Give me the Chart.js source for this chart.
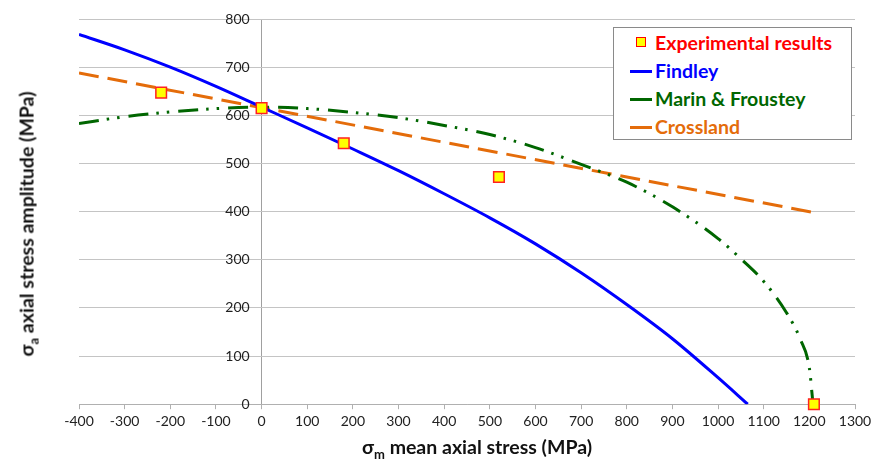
<!DOCTYPE html>
<html>
<head>
<meta charset="utf-8">
<script src="https://cdn.jsdelivr.net/npm/chart.js@4.4.0/dist/chart.umd.min.js"></script>
<style>
  html, body { margin: 0; padding: 0; background: #fff; }
  #wrap { position: relative; width: 872px; height: 461px; }
  #legend {
    position: absolute; left: 613px; top: 27px; width: 239px; height: 113px;
    border: 1px solid #8a8a8a; background: #fff; box-sizing: border-box;
    font-family: Lato, "Open Sans", sans-serif; font-weight: bold; font-size: 19.5px;
  }
  .item { position: absolute; left: 0; height: 22px; line-height: 22px; white-space: nowrap; }
  .item .txt { position: absolute; left: 41px; top: 0; }
  .swLine { position: absolute; left: 16px; top: 10px; width: 22px; height: 3px; }
  .swBox { position: absolute; left: 22px; top: 5px; width: 8px; height: 8px; border: 1.5px solid #f00; background: #ff0; }
  .axTitle { position: absolute; font-family: Lato, "Open Sans", sans-serif; font-weight: bold; font-size: 19.5px; color: #111; white-space: nowrap; }
  .axTitle sub { font-size: 13px; }
</style>
</head>
<body>
<div id="wrap">
  <canvas id="stressChart" width="872" height="461"></canvas>
  <div id="legend"></div>
  <div class="axTitle" style="left:362px; top:435px;">σ<sub>m</sub> mean axial stress (MPa)</div>
  <div class="axTitle" style="left:28px; top:224px; transform: translate(-50%,-50%) rotate(-90deg);">σ<sub>a</sub> axial stress amplitude (MPa)</div>
</div>
<script>
// values
var expX = [-220, 0, 180, 520, 1210];
var expY = [647, 615, 542, 472, 0];

var findleyX = [-400, -300, -200, -100, 0, 100, 200, 300, 400, 500, 600, 700, 800, 900, 1000, 1065];
var findleyY = [768, 736, 700, 660, 617, 574, 530, 485, 437, 387, 333, 273, 207, 136, 55, 0];

var marinX = [-400, -300, -200, -100, 0, 100, 200, 300, 400, 500, 600, 700, 800, 900, 1000, 1050, 1100, 1150, 1180, 1200, 1208];
var marinY = [583, 597, 607, 614, 617, 614, 606, 595, 579, 560, 533, 498, 461, 410, 344, 302, 255, 190, 135, 75, 0];

var crossX = [-400, 1210];
var crossY = [688, 398];

var xTicks = [-400, -300, -200, -100, 0, 100, 200, 300, 400, 500, 600, 700, 800, 900, 1000, 1100, 1200, 1300];
var yTicks = [0, 100, 200, 300, 400, 500, 600, 700, 800];

function pts(xs, ys) {
  return xs.map(function(x, i) { return {x: x, y: ys[i]}; });
}

var datasets = [
  {
    label: 'Experimental results',
    data: pts(expX, expY),
    showLine: false,
    pointStyle: 'rect',
    pointRadius: 7.5,
    pointHoverRadius: 7.5,
    backgroundColor: '#ffff00',
    borderColor: '#ff2020',
    borderWidth: 1.5,
    clip: false,
    textColor: '#ff0000'
  },
  {
    label: 'Findley',
    data: pts(findleyX, findleyY),
    showLine: true,
    borderColor: '#0000ff',
    borderWidth: 3,
    pointRadius: 0,
    cubicInterpolationMode: 'monotone',
    textColor: '#0000ff'
  },
  {
    label: 'Marin & Froustey',
    data: pts(marinX, marinY),
    showLine: true,
    borderColor: '#006600',
    borderWidth: 3,
    borderDash: [20, 8, 2.5, 8, 2.5, 9],
    pointRadius: 0,
    cubicInterpolationMode: 'monotone',
    textColor: '#006600'
  },
  {
    label: 'Crossland',
    data: pts(crossX, crossY),
    showLine: true,
    borderColor: '#e46c0a',
    borderWidth: 3,
    borderDash: [20, 9],
    pointRadius: 0,
    textColor: '#e46c0a'
  }
];

var tickFont = { family: 'Lato, "Open Sans", sans-serif', size: 14 };

var chart = new Chart(document.getElementById('stressChart'), {
  type: 'scatter',
  data: { datasets: datasets },
  options: {
    responsive: false,
    animation: false,
    layout: { padding: { left: 79, right: 17, top: 19, bottom: 27 } },
    plugins: { legend: { display: false }, tooltip: { enabled: false } },
    scales: {
      x: {
        type: 'linear',
        min: -400, max: 1300,
        afterBuildTicks: function(axis) { axis.ticks = xTicks.map(function(v) { return {value: v}; }); },
        afterFit: function(axis) { axis.paddingLeft = 0; axis.paddingRight = 0; },
        ticks: { color: '#222', font: tickFont, padding: 4, maxRotation: 0, callback: function(v) { return String(v); } },
        // only the zero line is drawn inside the plot: it is the vertical axis
        grid: {
          drawOnChartArea: true, drawTicks: true, tickLength: 5, tickColor: '#b0b0b0',
          color: function(c) { return c.tick && c.tick.value === 0 ? '#a0a0a0' : 'rgba(0,0,0,0)'; }
        },
        border: { color: '#b0b0b0', width: 1 }
      },
      y: {
        type: 'linear',
        position: { x: -26 },
        min: 0, max: 800,
        afterBuildTicks: function(axis) { axis.ticks = yTicks.map(function(v) { return {value: v}; }); },
        ticks: { color: '#222', font: tickFont, callback: function(v) { return String(v); } },
        grid: { color: '#c4c4c4', drawTicks: false },
        border: { display: false }
      }
    }
  }
});

// legend drawn as html, from the dataset labels
var leg = document.getElementById('legend');
datasets.forEach(function(ds, i) {
  var row = document.createElement('div');
  row.className = 'item';
  row.style.top = (4 + i * 28) + 'px';
  var sw = document.createElement('div');
  if (ds.showLine === false) {
    sw.className = 'swBox';
  } else {
    sw.className = 'swLine';
    sw.style.background = ds.borderColor;
  }
  var t = document.createElement('span');
  t.className = 'txt';
  t.style.color = ds.textColor;
  t.textContent = ds.label;
  row.appendChild(sw);
  row.appendChild(t);
  leg.appendChild(row);
});
</script>
</body>
</html>
